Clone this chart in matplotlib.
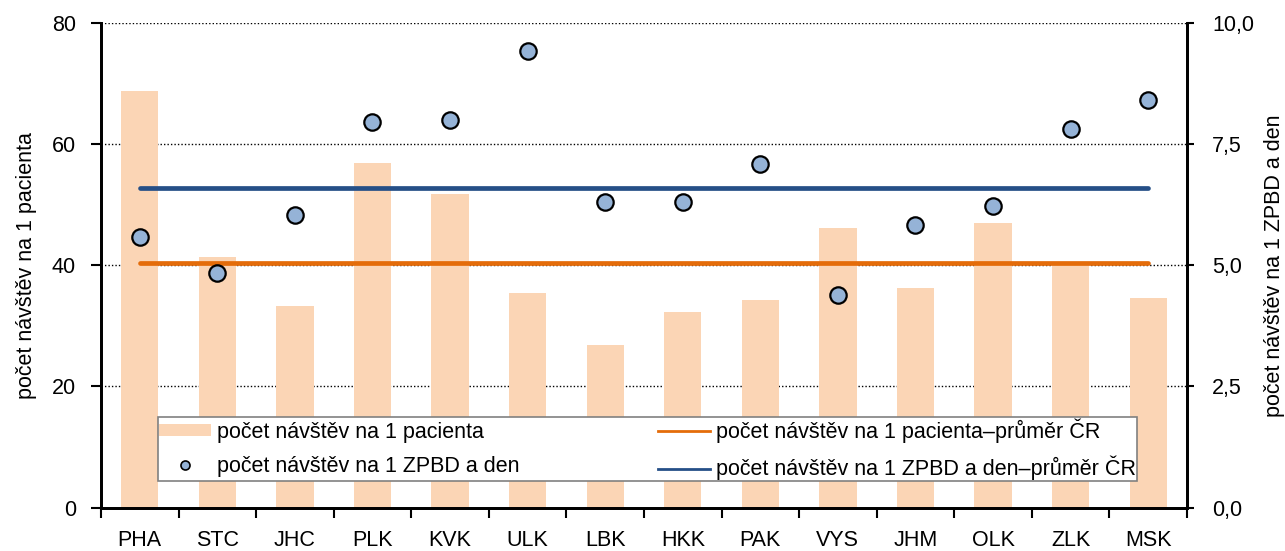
import matplotlib
matplotlib.use("Agg")
import matplotlib.pyplot as plt
from matplotlib.lines import Line2D
from matplotlib.patches import Patch
from matplotlib.ticker import FuncFormatter

plt.rcParams["font.family"] = ["Liberation Sans", "DejaVu Sans"]

# data
regions = ["PHA", "STC", "JHC", "PLK", "KVK", "ULK", "LBK",
           "HKK", "PAK", "VYS", "JHM", "OLK", "ZLK", "MSK"]
visits_per_patient = [68.7, 41.4, 33.3, 56.9, 51.7, 35.5, 26.8,
                      32.3, 34.3, 46.1, 36.2, 47.0, 40.5, 34.6]
visits_per_zpbd = [5.58, 4.84, 6.03, 7.95, 8.0, 9.42, 6.31,
                   6.31, 7.09, 4.39, 5.82, 6.23, 7.82, 8.4]
avg_patient = 40.3
avg_zpbd = 6.6

lbl_bar = "počet návštěv na 1 pacienta"
lbl_pts = "počet návštěv na 1 ZPBD a den"
lbl_avg_bar = "počet návštěv na 1 pacienta–průměr ČR"
lbl_avg_pts = "počet návštěv na 1 ZPBD a den–průměr ČR"

c_bar = "#FBD5B5"
c_pts = "#95B3D7"
c_orange = "#E46C0A"
c_blue = "#254F87"

fs = 15.5

fig = plt.figure(figsize=(12.85, 5.51), dpi=100)
ax = fig.add_axes([0.0786, 0.0786, 0.9237 - 0.0786, 0.9586 - 0.0786])
ax2 = ax.twinx()

x = list(range(len(regions)))

# sloupce + prumer CR
ax.bar(x, visits_per_patient, width=0.48, color=c_bar, zorder=2)
ax.plot([x[0], x[-1]], [avg_patient, avg_patient], color=c_orange,
        lw=3.4, solid_capstyle="round", zorder=3)

# body + prumer na pravou osu
ax2.plot([x[0], x[-1]], [avg_zpbd, avg_zpbd], color=c_blue,
         lw=3.4, solid_capstyle="round", zorder=3)
ax2.plot(x, visits_per_zpbd, linestyle="none", marker="o", markersize=11.8,
         markerfacecolor=c_pts, markeredgecolor="black", markeredgewidth=1.6,
         zorder=4)

# osy
ax.set_xlim(-0.5, len(regions) - 0.5)
ax.set_ylim(0, 80)
ax.set_yticks([0, 20, 40, 60, 80])
ax2.set_ylim(0, 10)
ax2.set_yticks([0, 2.5, 5, 7.5, 10])
ax2.yaxis.set_major_formatter(FuncFormatter(lambda v, p: f"{v:.1f}".replace(".", ",")))

ax.set_xticks(x)
ax.set_xticklabels(regions, fontsize=fs)
ax.set_xticks([i + 0.5 for i in range(-1, len(regions))], minor=True)
ax.tick_params(axis="x", which="major", length=0, pad=16)
ax.tick_params(axis="x", which="minor", length=7, width=1.5, direction="out")
ax.tick_params(axis="y", labelsize=fs, length=7, width=1.5, direction="out", pad=11)
ax2.tick_params(axis="y", labelsize=fs, length=5, width=1.5, direction="out", pad=13)

ax.yaxis.grid(True, linestyle=(0, (1, 1.5)), color="black", lw=1.0)
ax.set_axisbelow(True)

for a in (ax, ax2):
    a.spines["top"].set_visible(False)
    a.spines["left"].set_linewidth(2)
    a.spines["right"].set_linewidth(2)
    a.spines["bottom"].set_linewidth(2)

ax.set_ylabel(lbl_bar, fontsize=fs, labelpad=11)
ax2.set_ylabel(lbl_pts, fontsize=fs, labelpad=7)

# legenda
handles = [
    Patch(facecolor=c_bar, edgecolor="none"),
    Line2D([], [], linestyle="none", marker="o", markersize=6.5,
           markerfacecolor=c_pts, markeredgecolor="black", markeredgewidth=1.2),
    Line2D([], [], color=c_orange, lw=2),
    Line2D([], [], color=c_blue, lw=2),
]
labels = [lbl_bar, lbl_pts, lbl_avg_bar, lbl_avg_pts]
leg = ax2.legend(handles, labels, ncol=2, loc="lower left",
                 bbox_to_anchor=(0.0525, 0.0545, 0.9015, 0.128), mode="expand",
                 fontsize=fs, frameon=True, fancybox=False, framealpha=1,
                 edgecolor="#808080", handlelength=2.4, handleheight=0.45,
                 handletextpad=0.3, labelspacing=0.62, borderpad=0.04,
                 borderaxespad=0, columnspacing=0.5)
leg.get_frame().set_linewidth(1.2)

fig.savefig("out.png", dpi=100)
